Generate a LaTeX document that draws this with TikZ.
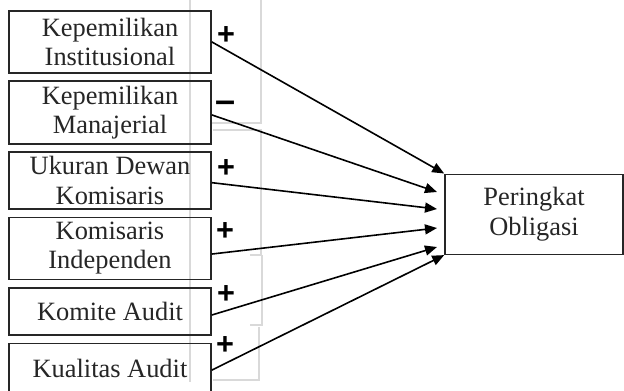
\documentclass[tikz,border=0pt]{standalone}
\usepackage{fontspec}
\setmainfont{Liberation Serif}
\newfontfamily\signfont{Liberation Sans}
\usetikzlibrary{arrows.meta}
\begin{document}
\begin{tikzpicture}[x=0.75pt,y=-0.75pt,
  varbox/.style={draw=black!85, line width=1.2pt, rectangle, align=center, inner sep=0pt,
    font=\fontsize{19.8}{22}\selectfont, text=black!85},
  link/.style={line width=1.2pt, -{Triangle[length=9pt,width=7.5pt]}},
  sign/.style={font=\signfont\bfseries\fontsize{23}{23}\selectfont, inner sep=0pt},
  faint/.style={draw=black!15, line width=0.8pt}]
\useasboundingbox (0,0) rectangle (624,390);
\clip (0,0) rectangle (624,390);
\fill[white] (0,0) rectangle (624,390);
% faint table-cell lines
\draw[faint] (190,0) -- (190,382);
\draw[faint] (261,0) -- (261,123) -- (211,123);
\draw[faint] (213,130) -- (261,130) -- (261,255) -- (250,255);
\draw[faint] (262,255) -- (262,325) -- (250,325);
\draw[faint] (259,327) -- (259,380) -- (213,380);
% boxes
\node[varbox, minimum width=151.5pt, minimum height=46.3pt] (b1) at (110,41.9) {Kepemilikan\\Institusional};
\node[varbox, minimum width=151.5pt, minimum height=47.2pt] (b2) at (110,112.5) {Kepemilikan\\Manajerial};
\node[varbox, minimum width=151.5pt, minimum height=43pt] (b3) at (110,180.4) {Ukuran Dewan\\Komisaris};
\node[varbox, minimum width=151.5pt, minimum height=46.5pt] (b4) at (110,248.3) {Komisaris\\Independen};
\node[varbox, minimum width=151.5pt, minimum height=35.5pt] (b5) at (110,311.4) {Komite Audit};
\node[varbox, minimum width=151.5pt, minimum height=37.5pt] (b6) at (110,368.5) {Kualitas Audit};
\node[varbox, minimum width=133.5pt, minimum height=60pt] (P) at (534,214.3) {Peringkat\\Obligasi};
% arrow targets
\coordinate (t2) at (437,192);
\coordinate (t3) at (437,209);
\coordinate (t4) at (437,228);
\coordinate (t5) at (437,247);
% connectors
\draw[link] (b1.east) -- (P.north west);
\draw[link] ([yshift=-1.8pt]b2.east) -- (t2);
\draw[link] ([yshift=-1.7pt]b3.east) -- (t3);
\draw[link] ([yshift=-4.3pt]b4.east) -- (t4);
\draw[link] ([yshift=-2.7pt]b5.east) -- (t5);
\draw[link] ([yshift=-1.2pt]b6.east) -- (P.south west);
% signs
\node[sign] (s1) at (226,35.5) {+};
\node[sign, font=\signfont\bfseries\fontsize{27}{27}\selectfont] (s2) at (226,107) {–};
\node[sign] (s3) at (226,169) {+};
\node[sign] (s4) at (225,231.5) {+};
\node[sign] (s5) at (226,294) {+};
\node[sign] (s6) at (225,345.5) {+};
\end{tikzpicture}
\end{document}
